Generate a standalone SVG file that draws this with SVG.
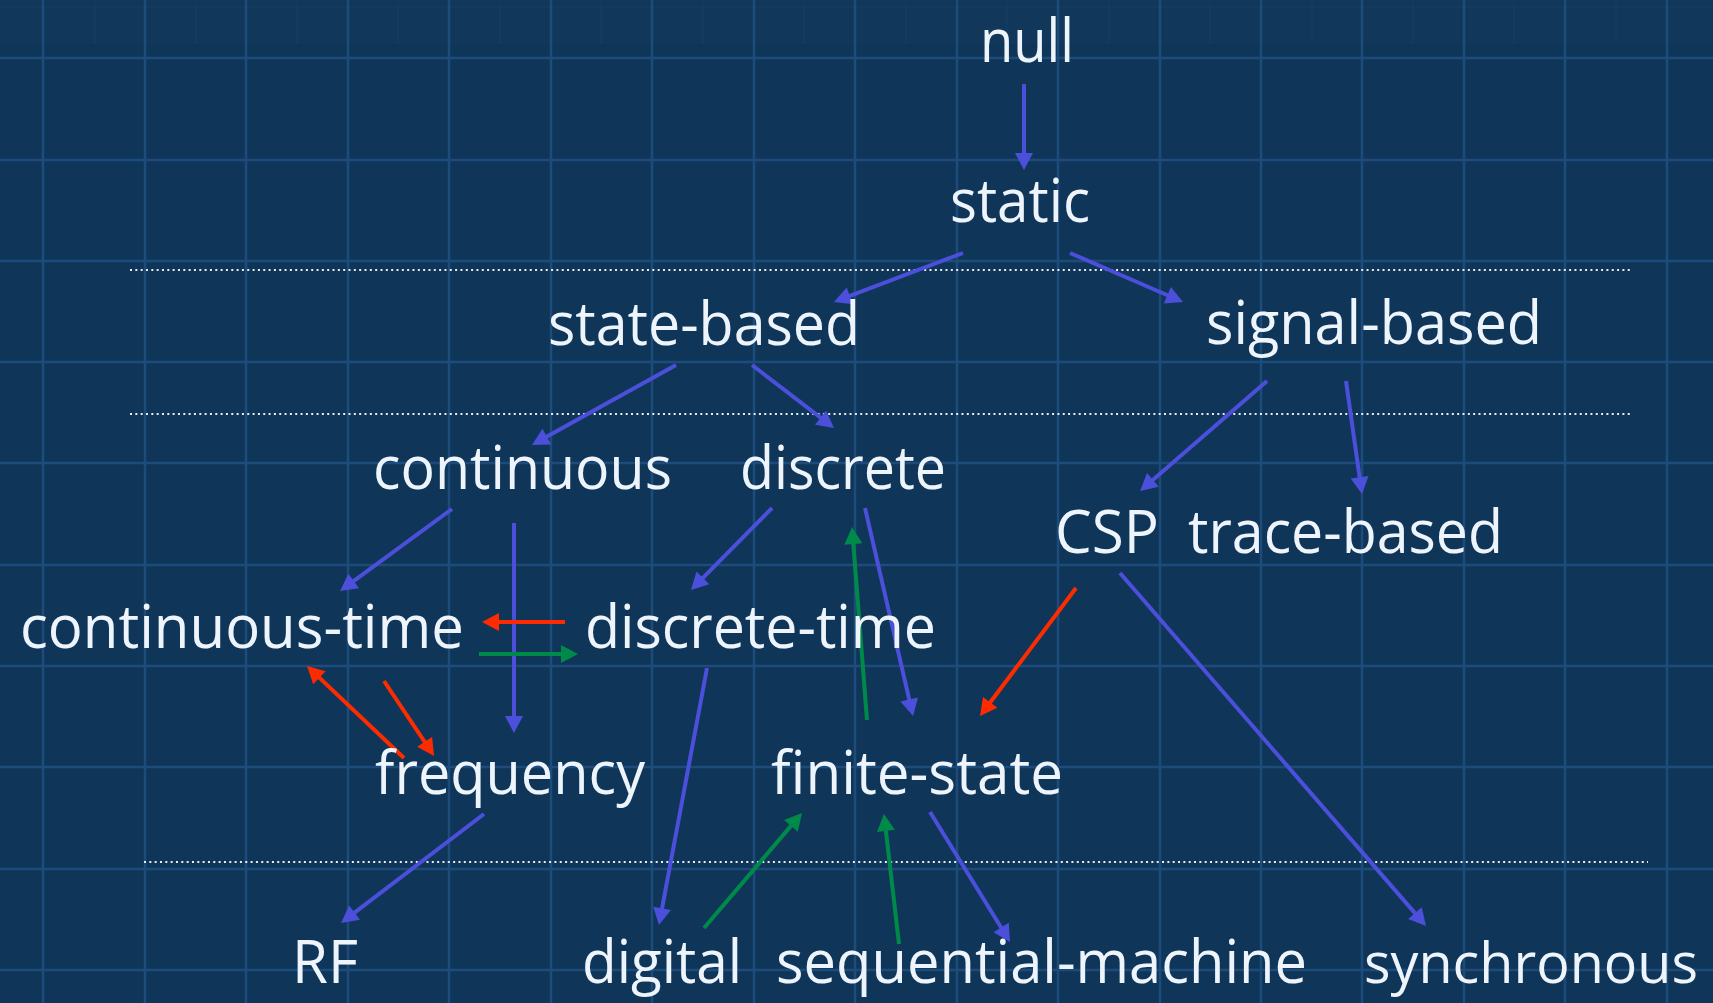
<svg xmlns="http://www.w3.org/2000/svg" width="1713" height="1003" viewBox="0 0 1713 1003">
  <defs>
    <style>
      .grid { stroke: #1d4b7c; stroke-width: 2.5; fill: none; }
      .grid-faint { stroke: #1a4674; stroke-width: 1.5; fill: none; opacity: 0.35; }
      .sep { stroke: #e8eef7; stroke-width: 2; stroke-dasharray: 2 3.33; fill: none; }
      .lbl { font-family: "Open Sans", "Liberation Sans", sans-serif; font-size: 60px; fill: #eef4fc; }
      .edge { fill: none; stroke-width: 4; stroke-linecap: butt; }
      .blue { stroke: #4b4fd9; }
      .red { stroke: #ff2b00; }
      .green { stroke: #008a4a; }
    </style>
    <marker id="ah-blue" markerUnits="userSpaceOnUse" markerWidth="20" markerHeight="20" viewBox="-8 -10 20 20" refX="0" refY="0" orient="auto">
      <path d="M-7,-9 L10,0 L-7,9 z" fill="#4b4fd9"/>
    </marker>
    <marker id="ah-red" markerUnits="userSpaceOnUse" markerWidth="20" markerHeight="20" viewBox="-8 -10 20 20" refX="0" refY="0" orient="auto">
      <path d="M-7,-9 L10,0 L-7,9 z" fill="#ff2b00"/>
    </marker>
    <marker id="ah-green" markerUnits="userSpaceOnUse" markerWidth="20" markerHeight="20" viewBox="-8 -10 20 20" refX="0" refY="0" orient="auto">
      <path d="M-7,-9 L10,0 L-7,9 z" fill="#008a4a"/>
    </marker>
  </defs>

  <!-- background -->
  <rect x="0" y="0" width="1713" height="1003" fill="#0f3659"/>
  <rect x="0" y="0" width="1713" height="44" fill="#ffffff" opacity="0.012"/>

  <!-- faint top band lines -->
  <g class="grid-faint">
    <path d="M0,7H1713 M95,0V44 M196,0V44 M297,0V44 M398,0V44 M500,0V44 M601,0V44 M703,0V44 M804,0V44 M906,0V44 M1007,0V44 M1109,0V44 M1210,0V44 M1312,0V44 M1413,0V44 M1514,0V44 M1616,0V44"/>
  </g>

  <!-- background grid -->
  <g class="grid">
    <path d="M43,0V1003 M145,0V1003 M246,0V1003 M348,0V1003 M449,0V1003 M551,0V1003 M652,0V1003 M754,0V1003 M855,0V1003 M957,0V1003 M1058,0V1003 M1160,0V1003 M1261,0V1003 M1362,0V1003 M1464,0V1003 M1565,0V1003 M1667,0V1003"/>
    <path d="M0,58H1713 M0,160H1713 M0,261H1713 M0,362H1713 M0,463H1713 M0,565H1713 M0,666H1713 M0,767H1713 M0,869H1713 M0,970H1713"/>
  </g>

  <!-- level separators -->
  <g id="separators">
    <path class="sep" d="M130,270H1633"/>
    <path class="sep" d="M130,414H1633"/>
    <path class="sep" d="M144,862H1648"/>
  </g>

  <!-- connectors -->
  <g id="connectors">
    <path class="edge blue" d="M1024,84L1024,160" marker-end="url(#ah-blue)"/>
    <path class="edge blue" d="M963,253L843.3,298.4" marker-end="url(#ah-blue)"/>
    <path class="edge blue" d="M1070,253L1173.8,298" marker-end="url(#ah-blue)"/>
    <path class="edge blue" d="M676,365L540.7,440.1" marker-end="url(#ah-blue)"/>
    <path class="edge blue" d="M752,365L826.1,421.9" marker-end="url(#ah-blue)"/>
    <path class="edge blue" d="M1267,381L1147.6,484.5" marker-end="url(#ah-blue)"/>
    <path class="edge blue" d="M1346,381L1360.6,484.1" marker-end="url(#ah-blue)"/>
    <path class="edge blue" d="M452,509L348.1,585.1" marker-end="url(#ah-blue)"/>
    <path class="edge blue" d="M514,523L514,723" marker-end="url(#ah-blue)"/>
    <path class="edge blue" d="M772,508L698,582.9" marker-end="url(#ah-blue)"/>
    <path class="edge blue" d="M865,508L910.8,706.3" marker-end="url(#ah-blue)"/>
    <path class="edge green" d="M867,720L852.8,537" marker-end="url(#ah-green)"/>
    <path class="edge red" d="M565,622L492,622" marker-end="url(#ah-red)"/>
    <path class="edge green" d="M479,654L568,654" marker-end="url(#ah-green)"/>
    <path class="edge red" d="M404,758L314.3,672.9" marker-end="url(#ah-red)"/>
    <path class="edge red" d="M384,681L428.5,747.7" marker-end="url(#ah-red)"/>
    <path class="edge blue" d="M707,668L660.8,915.2" marker-end="url(#ah-blue)"/>
    <path class="edge blue" d="M484,814L349,916.9" marker-end="url(#ah-blue)"/>
    <path class="edge red" d="M1076,588L986,708" marker-end="url(#ah-red)"/>
    <path class="edge blue" d="M1120,573L1419.5,918.4" marker-end="url(#ah-blue)"/>
    <path class="edge green" d="M704,928L795.5,820.6" marker-end="url(#ah-green)"/>
    <path class="edge green" d="M899,944L885.1,823.9" marker-end="url(#ah-green)"/>
    <path class="edge blue" d="M930,812L1004.8,933.5" marker-end="url(#ah-blue)"/>
  </g>

  <!-- nodes -->
  <g id="node-null"><text class="lbl" x="980" y="62" textLength="94" lengthAdjust="spacingAndGlyphs">null</text></g>
  <g id="node-static"><text class="lbl" x="950" y="222" textLength="140" lengthAdjust="spacingAndGlyphs">static</text></g>
  <g id="node-state-based"><text class="lbl" x="548" y="345" textLength="312" lengthAdjust="spacingAndGlyphs">state-based</text></g>
  <g id="node-signal-based"><text class="lbl" x="1206" y="344" textLength="336" lengthAdjust="spacingAndGlyphs">signal-based</text></g>
  <g id="node-continuous"><text class="lbl" x="373" y="489" textLength="299" lengthAdjust="spacingAndGlyphs">continuous</text></g>
  <g id="node-discrete"><text class="lbl" x="740" y="489" textLength="206" lengthAdjust="spacingAndGlyphs">discrete</text></g>
  <g id="node-csp"><text class="lbl" x="1055" y="553" textLength="104" lengthAdjust="spacingAndGlyphs">CSP</text></g>
  <g id="node-trace-based"><text class="lbl" x="1188" y="553" textLength="315" lengthAdjust="spacingAndGlyphs">trace-based</text></g>
  <g id="node-continuous-time"><text class="lbl" x="20" y="648" textLength="444" lengthAdjust="spacingAndGlyphs">continuous-time</text></g>
  <g id="node-discrete-time"><text class="lbl" x="585" y="648" textLength="351" lengthAdjust="spacingAndGlyphs">discrete-time</text></g>
  <g id="node-frequency"><text class="lbl" x="375" y="794" textLength="270" lengthAdjust="spacingAndGlyphs">frequency</text></g>
  <g id="node-finite-state"><text class="lbl" x="771" y="794" textLength="292" lengthAdjust="spacingAndGlyphs">finite-state</text></g>
  <g id="node-rf"><text class="lbl" x="292" y="983" textLength="66" lengthAdjust="spacingAndGlyphs">RF</text></g>
  <g id="node-digital"><text class="lbl" x="582" y="983" textLength="160" lengthAdjust="spacingAndGlyphs">digital</text></g>
  <g id="node-sequential-machine"><text class="lbl" x="776" y="983" textLength="531" lengthAdjust="spacingAndGlyphs">sequential-machine</text></g>
  <g id="node-synchronous"><text class="lbl" x="1364" y="983" style="font-size:57px" textLength="334" lengthAdjust="spacingAndGlyphs">synchronous</text></g>
</svg>
